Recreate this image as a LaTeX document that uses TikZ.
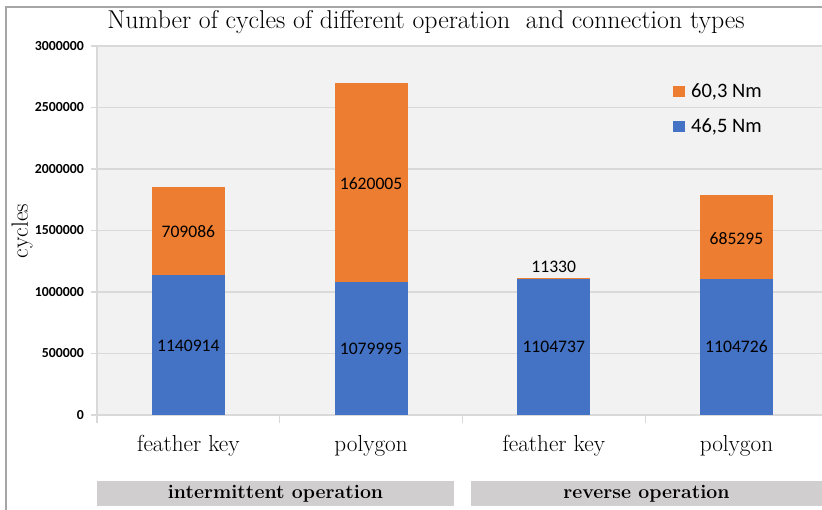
\documentclass[tikz,border=0pt]{standalone}
\usepackage{fontspec}
\newfontfamily\carlito{Carlito}
\definecolor{barblue}{HTML}{4472C4}
\definecolor{barorange}{HTML}{ED7D31}
\definecolor{plotbg}{HTML}{F2F2F2}
\definecolor{gridc}{HTML}{D9D9D9}
\definecolor{boxgray}{HTML}{D0CECE}
\definecolor{framec}{HTML}{A6A6A6}
\begin{document}
\begin{tikzpicture}[x=1pt,y=-1pt,
  ticklabel/.style={anchor=east,inner sep=0pt,font=\carlito\bfseries\fontsize{13.8}{14}\selectfont},
  datalabel/.style={inner sep=0pt,font=\carlito\fontsize{17.6}{18}\selectfont},
  leglabel/.style={anchor=west,inner sep=0pt,font=\carlito\fontsize{20.5}{21}\selectfont},
  catlabel/.style={inner sep=0pt,font=\fontsize{23.2}{24}\selectfont},
  grouplabel/.style={inner sep=0pt,font=\bfseries\fontsize{19.5}{20}\selectfont},
  gridline/.style={draw=gridc,line width=1.2pt},
  groupbox/.style={fill=boxgray,draw=none}
]
\useasboundingbox (0,0) rectangle (822,510);
\fill[white] (0,0) rectangle (822,510);
% frame
\draw[framec,line width=2pt] (6,510) -- (6,7) -- (822,7);
% plot background
\fill[plotbg] (97,46) rectangle (822,415);
% gridlines and y labels
\foreach \v/\t in {0/0,500/500000,1000/1000000,1500/1500000,2000/2000000,2500/2500000,3000/3000000}{
  \pgfmathsetmacro{\yy}{415-\v*0.123}
  \draw[gridline] (91,\yy) -- (822,\yy);
  \node[ticklabel] (yl\v) at (84,\yy) {\t};
}
% category separators
\draw[gridline] (97,46) -- (97,423);
\foreach \k in {1,2,3}{
  \pgfmathsetmacro{\xx}{97+182.7*\k}
  \draw[gridline] (\xx,415) -- (\xx,423);
}
% bars: center, blue, orange (in thousands)
\foreach \c/\b/\o [count=\i] in {188.35/1140.914/709.086, 371.05/1079.995/1620.005, 553.75/1104.737/11.330, 736.45/1104.726/685.295}{
  \pgfmathsetmacro{\yb}{415-\b*0.123}
  \pgfmathsetmacro{\yo}{415-(\b+\o)*0.123}
  \fill[barblue] (\c-36.5,415) rectangle (\c+36.5,\yb);
  \fill[barorange] (\c-36.5,\yb) rectangle (\c+36.5,\yo);
}
% data labels
\node[datalabel] (b1) at (188.35,345.5) {1140914};
\node[datalabel] (o1) at (188.35,231.5) {709086};
\node[datalabel] (b2) at (371.05,348.5) {1079995};
\node[datalabel] (o2) at (371.05,184) {1620005};
\node[datalabel] (b3) at (553.75,347) {1104737};
\node[datalabel] (o3) at (553.75,267) {11330};
\node[datalabel] (b4) at (736.45,347) {1104726};
\node[datalabel] (o4) at (736.45,238.5) {685295};
% legend
\fill[barorange] (673,86) rectangle (685,97.5);
\node[leglabel] (lg1) at (691,92) {60,3 Nm};
\fill[barblue] (673,121) rectangle (685,132.5);
\node[leglabel] (lg2) at (691,127) {46,5 Nm};
% title
\node[inner sep=0pt,font=\fontsize{25.8}{27}\selectfont] (title) at (426,22) {Number of cycles of different operation\ \ and connection types};
% y axis title
\node[inner sep=0pt,rotate=90,font=\fontsize{23.5}{24}\selectfont] (ytitle) at (22,231) {cycles};
% category labels
\node[catlabel] (c1) at (188.35,446) {feather key};
\node[catlabel] (c2) at (371.05,446) {polygon};
\node[catlabel] (c3) at (553.75,446) {feather key};
\node[catlabel] (c4) at (736.45,446) {polygon};
% group boxes
\fill[groupbox] (97,481) rectangle (454,506);
\fill[groupbox] (471,481) rectangle (822,506);
\node[grouplabel] (g1) at (275.5,494) {intermittent operation};
\node[grouplabel] (g2) at (646.5,494) {reverse operation};
\end{tikzpicture}
\end{document}
